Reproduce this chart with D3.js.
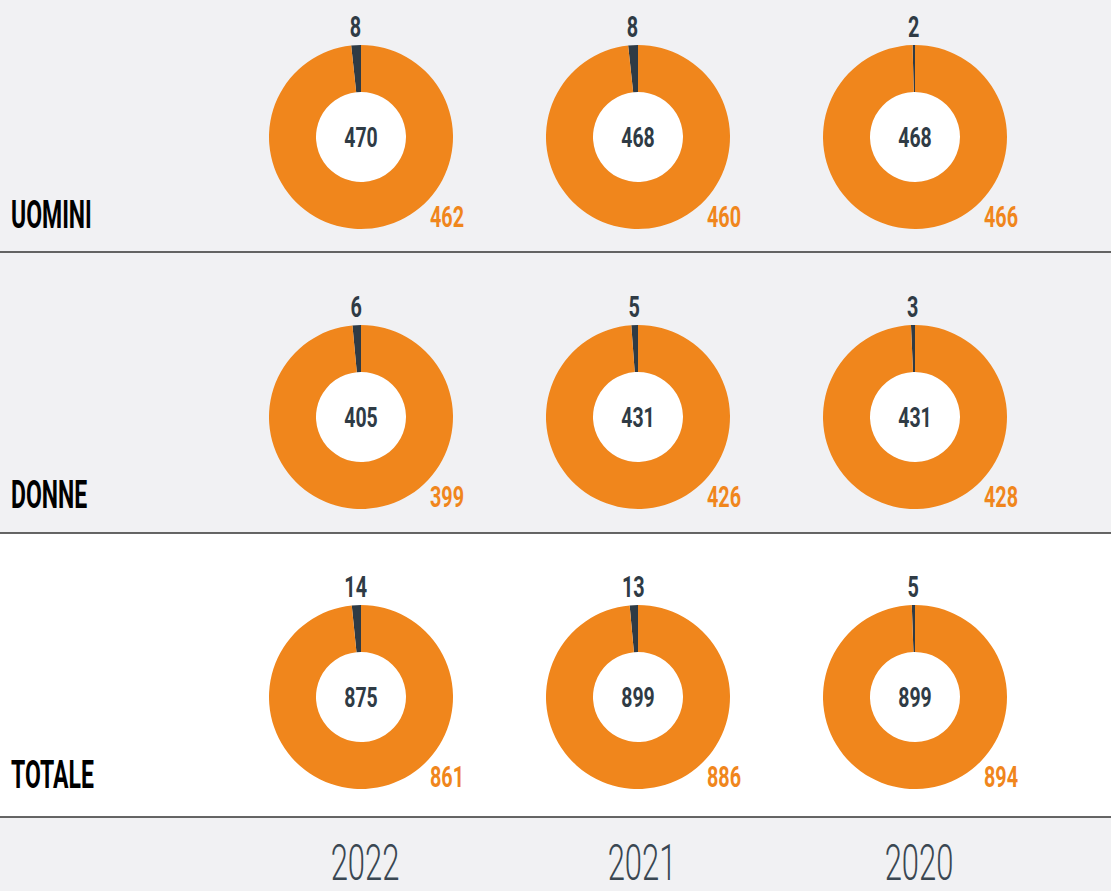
<!DOCTYPE html>
<html lang="en">
<head>
    <meta charset="UTF-8">
    <title>Uomini Donne Totale</title>
    <script src="https://cdn.jsdelivr.net/npm/d3@7"></script>
    <style>
        body { margin: 0; background: #fff; }
        svg { display: block; }
        text { font-family: Roboto, "DejaVu Sans", sans-serif; }
    </style>
</head>
<body>
    <div id="chart"></div>
    <script>
        const rows = ['UOMINI', 'DONNE', 'TOTALE']
        const years = ['2022', '2021', '2020']
        // orange part, dark part and the total in the middle, by row then by year
        const orangeVals = [[462, 460, 466], [399, 426, 428], [861, 886, 894]]
        const darkVals = [[8, 8, 2], [6, 5, 3], [14, 13, 5]]
        const totals = [[470, 468, 468], [405, 431, 431], [875, 899, 899]]

        let w = 1111
        let h = 891
        let orange = '#f0861c'
        let dark = '#2f3b45'
        let grey = '#f1f1f3'

        let svg = d3.select('#chart').append('svg')
            .attr('width', w)
            .attr('height', h)

        let x = d3.scalePoint().domain(years).range([361, 915])
        let y = d3.scalePoint().domain(rows).range([137, 697])

        let outer = 92
        let inner = 45
        let arc = d3.arc().innerRadius(inner).outerRadius(outer)

        // the font is not condensed, so squeeze the text sideways
        let squeeze = (sel, tx, ty, sx) => sel.attr('transform', `translate(${tx}, ${ty}) scale(${sx}, 1)`)

        // row backgrounds (first two grey, total white, footer grey)
        let bands = [[0, 252, grey], [252, 533, grey], [533, 817, '#fff'], [817, h, grey]]
        svg.selectAll('rect.band')
            .data(bands)
            .enter()
            .append('rect')
            .attr('class', 'band')
            .attr('x', 0)
            .attr('y', d => d[0])
            .attr('width', w)
            .attr('height', d => d[1] - d[0])
            .attr('fill', d => d[2])

        svg.selectAll('line.sep')
            .data([252, 533, 817])
            .enter()
            .append('line')
            .attr('x1', 0)
            .attr('x2', w)
            .attr('y1', d => d)
            .attr('y2', d => d)
            .attr('stroke', '#333')
            .attr('stroke-width', 1.5)

        // row labels
        svg.selectAll('text.row')
            .data(rows)
            .enter()
            .append('text')
            .attr('class', 'row')
            .attr('transform', d => `translate(11, ${y(d) + 91}) scale(0.59, 1)`)
            .attr('font-size', 39)
            .attr('font-weight', 'bold')
            .attr('fill', '#000')
            .text(d => d)

        rows.forEach((r, i) => {
            years.forEach((yr, j) => {
                let total = totals[i][j]
                let a = 2 * Math.PI * darkVals[i][j] / (darkVals[i][j] + orangeVals[i][j])
                let pie = d3.pie().sort(null).startAngle(-a).endAngle(2 * Math.PI - a)
                let slices = pie([darkVals[i][j], orangeVals[i][j]])

                let g = svg.append('g')
                    .attr('transform', `translate(${x(yr)}, ${y(r)})`)

                g.append('circle').attr('r', inner).attr('fill', '#fff')

                g.selectAll('path')
                    .data(slices)
                    .enter()
                    .append('path')
                    .attr('d', arc)
                    .attr('fill', (d, k) => k === 0 ? dark : orange)

                g.append('text')
                    .attr('text-anchor', 'middle')
                    .attr('font-size', 27)
                    .attr('font-weight', 'bold')
                    .attr('fill', dark)
                    .text(total)
                    .call(squeeze, 0, 10, 0.72)

                // label above the dark slice
                let mid = -a / 2
                g.append('text')
                    .attr('text-anchor', 'middle')
                    .attr('font-size', 30)
                    .attr('font-weight', 'bold')
                    .attr('fill', dark)
                    .text(darkVals[i][j])
                    .call(squeeze, Math.sin(mid) * 105, -outer - 8, 0.66)

                g.append('text')
                    .attr('text-anchor', 'middle')
                    .attr('font-size', 30)
                    .attr('font-weight', 'bold')
                    .attr('fill', orange)
                    .text(orangeVals[i][j])
                    .call(squeeze, 86, 90, 0.66)
            })
        })

        // year labels at the bottom
        svg.selectAll('text.year')
            .data(years)
            .enter()
            .append('text')
            .attr('class', 'year')
            .attr('text-anchor', 'middle')
            .attr('transform', d => `translate(${x(d) + 4}, 880) scale(0.62, 1)`)
            .attr('font-size', 50)
            .attr('font-weight', 300)
            .attr('fill', '#3a4752')
            .text(d => d)
    </script>
</body>
</html>
